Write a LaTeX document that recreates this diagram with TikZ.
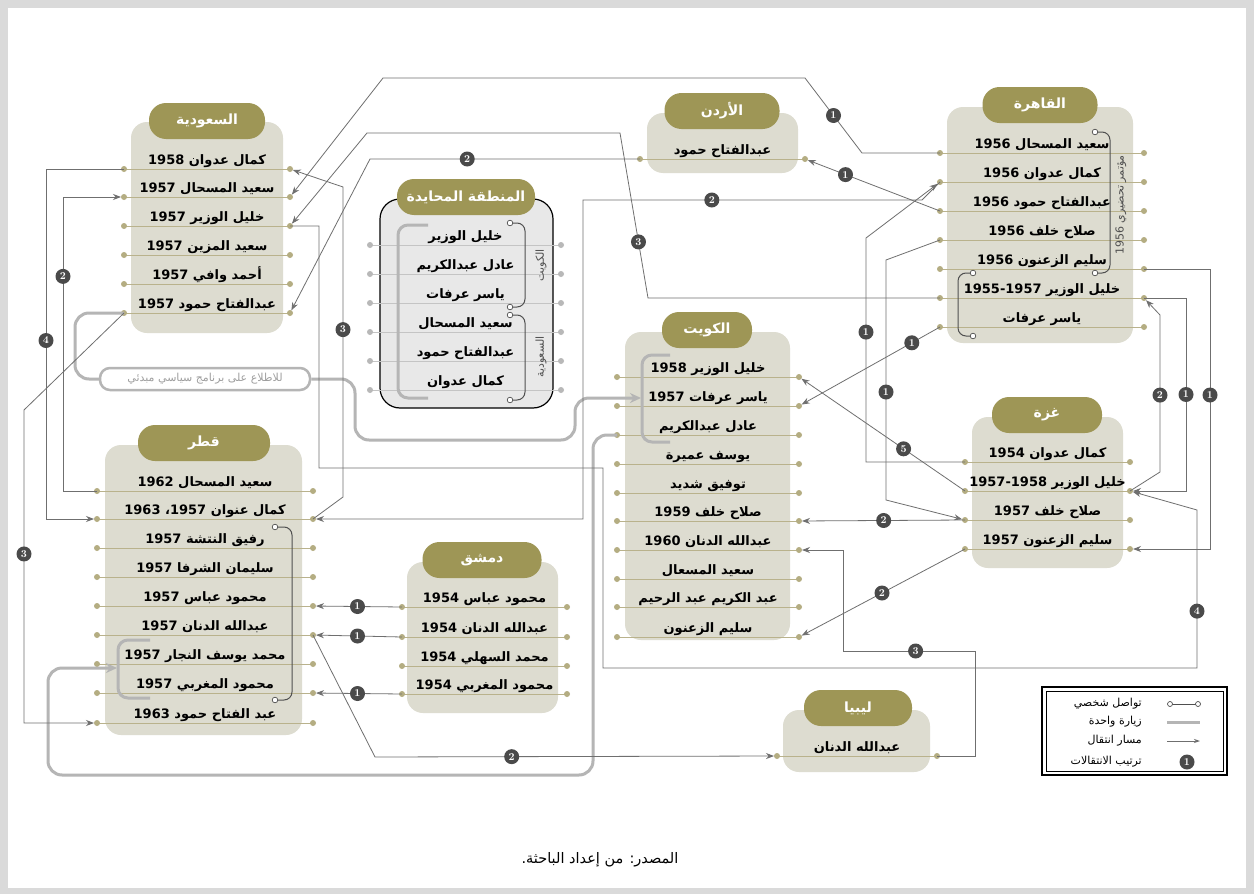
\documentclass[tikz,border=0pt]{standalone}
\usepackage{fontspec}
\usetikzlibrary{arrows.meta}
\TeXXeTstate=1
\newfontfamily\arabicfont[Script=Arabic]{DejaVu Sans}
\newcommand\ar[1]{{\arabicfont #1}}
\definecolor{framecol}{HTML}{DADADA}
\definecolor{boxfill}{HTML}{DDDCD0}
\definecolor{pillcol}{HTML}{9E9656}
\definecolor{rowcol}{HTML}{B9B28C}
\definecolor{dotcol}{HTML}{B4AD82}
\definecolor{nzfill}{HTML}{E8E8E8}
\definecolor{nzline}{HTML}{C4C4C4}
\definecolor{nzdot}{HTML}{B8B8B8}
\definecolor{conncol}{HTML}{6F6F6F}
\definecolor{visitcol}{HTML}{B5B5B5}
\definecolor{brkcol}{HTML}{4F4F4F}
\definecolor{numcol}{HTML}{4A4A4A}
\tikzset{
 pill/.style={fill=pillcol, rounded corners=17pt, minimum height=36pt, text=white, font=\bfseries\fontsize{14}{14}\selectfont, inner sep=0pt},
 rowtxt/.style={anchor=base, font=\bfseries\fontsize{13}{13}\selectfont, inner sep=0pt},
 conn/.style={draw=conncol, line width=0.8pt},
 arr/.style={conn, -{Stealth[length=8pt,width=6pt]}, shorten >=3pt},
 num/.style={circle, fill=numcol, text=white, inner sep=0pt, minimum size=15pt, font=\bfseries\fontsize{10.5}{10.5}\selectfont},
 visit/.style={draw=visitcol, line width=3pt, rounded corners=14pt},
 visitarr/.style={visit, -{Stealth[length=11pt,width=10pt]}},
 brkline/.style={draw=brkcol, line width=1pt, rounded corners=8pt},
 boxbg/.style={fill=boxfill, rounded corners=16pt},
 vlab/.style={rotate=90, text=brkcol, font=\fontsize{11}{11}\selectfont, inner sep=0pt},
 lgtxt/.style={anchor=east, font=\fontsize{11}{11}\selectfont, inner sep=0pt},
}
\newcommand\gRow[7]{%
 \coordinate (#3L) at (#4,#6); \coordinate (#3R) at (#5,#6);
 \draw[#1, line width=0.9pt] (#3L) -- (#3R);
 \fill[#2] (#3L) circle (3pt); \fill[#2] (#3R) circle (3pt);
 \node[rowtxt] (#3) at ({(#4+#5)/2},{#6-5}) {\ar{#7}};
}
\newcommand\crow{\gRow{rowcol}{dotcol}}
\newcommand\nrow{\gRow{nzline}{nzdot}}
\newcommand\brk[4]{%
 \draw[brkline] (#1,#2) -- (#4,#2) -- (#4,#3) -- (#1,#3);
 \draw[brkcol, fill=white, line width=0.7pt] (#1,#2) circle (2.8pt) (#1,#3) circle (2.8pt);
}
\begin{document}
\begin{tikzpicture}[x=1pt,y=-1pt]
\useasboundingbox (0,0) rectangle (1254,894);
\fill[framecol] (0,0) rectangle (1254,894);
\fill[white] (8,8) rectangle (1246,888);

% ---------- boxes ----------
\fill[boxbg] (131,122) rectangle (283,333);
\node[pill, minimum width=116pt] (sa) at (207,121) {\ar{\beginR السعودية\endR}};
\draw[fill=nzfill, draw=black, line width=1.2pt, rounded corners=20pt] (380,199) rectangle (553,408);
\node[pill, minimum width=138pt] (nz) at (466,197) {\ar{\beginR المنطقة المحايدة\endR}};
\fill[boxbg] (947,107) rectangle (1133,343);
\node[pill, minimum width=115pt] (ca) at (1040,105) {\ar{\beginR القاهرة\endR}};
\fill[boxbg] (647,113) rectangle (798,173);
\node[pill, minimum width=115pt] (jo) at (722,111) {\ar{\beginR الأردن\endR}};
\fill[boxbg] (625,332) rectangle (790,640);
\node[pill, minimum width=90pt] (ku) at (707,330) {\ar{\beginR الكويت\endR}};
\fill[boxbg] (105,445) rectangle (302,735);
\node[pill, minimum width=132pt] (qa) at (204,443) {\ar{\beginR قطر\endR}};
\fill[boxbg] (407,562) rectangle (558,713);
\node[pill, minimum width=119pt] (da) at (482,560) {\ar{\beginR دمشق\endR}};
\fill[boxbg] (972,417) rectangle (1123,568);
\node[pill, minimum width=110pt] (ga) at (1047,415) {\ar{\beginR غزة\endR}};
\fill[boxbg] (783,710) rectangle (930,772);
\node[pill, minimum width=108pt] (li) at (858,708) {\ar{\beginR ليبيا\endR}};

% ---------- rows ----------
\crow{sa1}{124}{290}{169}{\beginR كمال عدوان 1958\endR}
\crow{sa2}{124}{290}{197}{\beginR سعيد المسحال 1957\endR}
\crow{sa3}{124}{290}{226}{\beginR خليل الوزير 1957\endR}
\crow{sa4}{124}{290}{255}{\beginR سعيد المزين 1957\endR}
\crow{sa5}{124}{290}{284}{\beginR أحمد وافي 1957\endR}
\crow{sa6}{124}{290}{313}{\beginR عبدالفتاح حمود 1957\endR}

\nrow{nz1}{370}{561}{245}{\beginR خليل الوزير\endR}
\nrow{nz2}{370}{561}{274}{\beginR عادل عبدالكريم\endR}
\nrow{nz3}{370}{561}{303}{\beginR ياسر عرفات\endR}
\nrow{nz4}{370}{561}{332}{\beginR سعيد المسحال\endR}
\nrow{nz5}{370}{561}{361}{\beginR عبدالفتاح حمود\endR}
\nrow{nz6}{370}{561}{390}{\beginR كمال عدوان\endR}

\crow{ca1}{940}{1144}{153}{\beginR سعيد المسحال 1956\endR}
\crow{ca2}{940}{1144}{182}{\beginR كمال عدوان 1956\endR}
\crow{ca3}{940}{1144}{211}{\beginR عبدالفتاح حمود 1956\endR}
\crow{ca4}{940}{1144}{240}{\beginR صلاح خلف 1956\endR}
\crow{ca5}{940}{1144}{269}{\beginR سليم الزعنون 1956\endR}
\crow{ca6}{940}{1144}{298}{\beginR خليل الوزير 1955-1957\endR}
\crow{ca7}{940}{1144}{327}{\beginR ياسر عرفات\endR}

\crow{jo1}{640}{805}{159}{\beginR عبدالفتاح حمود\endR}

\crow{ku1}{617}{799}{377}{\beginR خليل الوزير 1958\endR}
\crow{ku2}{617}{799}{406}{\beginR ياسر عرفات 1957\endR}
\crow{ku3}{617}{799}{435}{\beginR عادل عبدالكريم\endR}
\crow{ku4}{617}{799}{464}{\beginR يوسف عميرة\endR}
\crow{ku5}{617}{799}{493}{\beginR توفيق شديد\endR}
\crow{ku6}{617}{799}{521}{\beginR صلاح خلف 1959\endR}
\crow{ku7}{617}{799}{550}{\beginR عبدالله الدنان 1960\endR}
\crow{ku8}{617}{799}{579}{\beginR سعيد المسعال\endR}
\crow{ku9}{617}{799}{607}{\beginR عبد الكريم عبد الرحيم\endR}
\crow{ku10}{617}{799}{637}{\beginR سليم الزعنون\endR}

\crow{qa1}{97}{313}{491}{\beginR سعيد المسحال 1962\endR}
\crow{qa2}{97}{313}{519}{\beginR كمال عنوان 1957، 1963\endR}
\crow{qa3}{97}{313}{548}{\beginR رفيق النتشة 1957\endR}
\crow{qa4}{97}{313}{577}{\beginR سليمان الشرفا 1957\endR}
\crow{qa5}{97}{313}{606}{\beginR محمود عباس 1957\endR}
\crow{qa6}{97}{313}{635}{\beginR عبدالله الدنان 1957\endR}
\crow{qa7}{97}{313}{664}{\beginR محمد يوسف النجار 1957\endR}
\crow{qa8}{97}{313}{693}{\beginR محمود المغربي 1957\endR}
\crow{qa9}{97}{313}{723}{\beginR عبد الفتاح حمود 1963\endR}

\crow{da1}{402}{567}{607}{\beginR محمود عباس 1954\endR}
\crow{da2}{402}{567}{637}{\beginR عبدالله الدنان 1954\endR}
\crow{da3}{402}{567}{666}{\beginR محمد السهلي 1954\endR}
\crow{da4}{402}{567}{694}{\beginR محمود المغربي 1954\endR}

\crow{ga1}{965}{1130}{462}{\beginR كمال عدوان 1954\endR}
\crow{ga2}{965}{1130}{491}{\beginR خليل الوزير 1957-1958\endR}
\crow{ga3}{965}{1130}{520}{\beginR صلاح خلف 1957\endR}
\crow{ga4}{965}{1130}{549}{\beginR سليم الزعنون 1957\endR}

\crow{li1}{777}{937}{756}{\beginR عبدالله الدنان\endR}

% ---------- personal contact brackets ----------
\brk{1095}{132}{273}{1110}
\brk{973}{273}{336}{958}
\brk{510}{223}{307}{525}
\brk{510}{315}{400}{525}
\brk{275}{527}{700}{292}
\node[vlab] (vca) at (1121,205) {\ar{\beginR مؤتمر تحضيري 1956\endR}};
\node[vlab] (vku) at (541,265) {\ar{\beginR الكويت\endR}};
\node[vlab] (vsa) at (541,357) {\ar{\beginR السعودية\endR}};

% ---------- one-visit paths ----------
\draw[visit, rounded corners=10pt] (428,225) -- (398,225) -- (398,398) -- (428,398);
\draw[visit, rounded corners=10pt] (670,355) -- (642,355) -- (642,442) -- (670,442);
\draw[visit, rounded corners=10pt] (150,640) -- (118,640) -- (118,698) -- (150,698);
\node[draw=visitcol, line width=2.5pt, fill=white, rounded corners=10pt, minimum width=210pt, minimum height=22pt, inner sep=0pt, text=gray!75, font=\fontsize{11}{11}\selectfont] (lab) at (205,379) {\ar{\beginR للاطلاع على برنامج سياسي مبدئي\endR}};
\draw[visit] (sa6L) -- (75,313) -- (75,379) -- (lab.west);
\draw[visitarr] (lab.east) -- (355,379) -- (355,440) -- (575,440) -- (575,398) -- (641,398);
\draw[visitarr] (ku3L) -- (593,435) -- (593,775) -- (48,775) -- (48,668) -- (117,668);

% ---------- moves ----------
\draw[arr] (ca1L) -- (862,153) -- node[num]{1} (805,78) -- (383,78) -- (sa2R);
\draw[arr] (jo1L) -- node[num,pos=.64]{2} (370,159) -- (sa6R);
\draw[arr] (ca3L) -- node[num,pos=.7]{1} (jo1R);
\draw[arr] (ca2L) -- (922,200) -- node[num,pos=.62]{2} (583,200) -- (583,519) -- (qa2R);
\draw[arr] (ca6L) -- (648,298) -- node[num,pos=.34]{3} (620,133) -- (367,133) -- (sa3R);
\draw[arr] (qa1L) -- (63,491) -- node[num,pos=.73]{2} (63,197) -- (sa2L);
\draw[arr] (sa1L) -- (46,169) -- node[num,pos=.49]{4} (46,519) -- (qa2L);
\draw[arr] (qa2R) -- (343,497) -- node[num,pos=.54]{3} (343,187) -- (sa1R);
\draw[arr] (sa6L) -- (24,410) -- node[num,pos=.46]{3} (24,723) -- (qa9L);
\draw[arr] (da1L) -- node[num]{1} (qa5R);
\draw[arr] (da2L) -- node[num]{1} (qa6R);
\draw[arr] (da4L) -- node[num]{1} (qa8R);
\draw[arr] (qa6R) -- (375,757) -- node[num,pos=.34]{2} (li1L);
\draw[arr] (li1R) -- (975,756) -- (975,651) -- node[num,pos=.45]{3} (843,651) -- (843,550) -- (ku7R);
\draw[arr] (ca7L) -- node[num,pos=.2]{1} (ku2R);
\draw[arr] (ga1L) -- (866,462) -- node[num,pos=.58]{1} (866,238) -- (ca2L);
\draw[arr] (ca4L) -- (886,260) -- node[num,pos=.55]{1} (886,500) -- (ga3L);
\draw[arr] (ga3L) -- node[num,pos=.49]{2} (ku6R);
\draw[arr] (ga4L) -- node[num]{2} (ku10R);
\draw[arr] (ga2L) -- node[num,pos=.37]{5} (ku1R);
\draw[arr] (ca6R) -- (1186,298) -- node[num]{1} (1186,491) -- (ga2R);
\draw[arr] (ga2R) -- (1160,472) -- node[num,pos=.49]{2} (1160,315) -- (ca6R);
\draw[arr] (ca5R) -- (1210,269) -- node[num,pos=.45]{1} (1210,549) -- (ga4R);
\draw[arr] (sa3R) -- (319,226) -- (319,468) -- (603,468) -- (603,668) -- (1197,668) -- node[num,pos=.36]{4} (1197,510) -- (ga2R);

% ---------- legend ----------
\draw[black, line width=1.3pt] (1042,687) rectangle (1227,775);
\draw[black, line width=0.6pt] (1046,691) rectangle (1223,771);
\node[lgtxt] (lg1) at (1142,704) {\ar{\beginR تواصل شخصي\endR}};
\node[lgtxt] (lg2) at (1142,722) {\ar{\beginR زيارة واحدة\endR}};
\node[lgtxt] (lg3) at (1142,741) {\ar{\beginR مسار انتقال\endR}};
\node[lgtxt] (lg4) at (1142,762) {\ar{\beginR ترتيب الانتقالات\endR}};
\coordinate (lgA1) at (1170,704); \coordinate (lgA2) at (1198,704);
\draw[brkcol, line width=0.7pt] (lgA1) -- (lgA2);
\draw[brkcol, fill=white, line width=0.7pt] (lgA1) circle (2.5pt) (lgA2) circle (2.5pt);
\coordinate (lgB1) at (1167,722); \coordinate (lgB2) at (1200,722);
\draw[visitcol, line width=3pt] (lgB1) -- (lgB2);
\coordinate (lgC1) at (1167,741); \coordinate (lgC2) at (1200,741);
\draw[conn, -{Stealth[length=6pt,width=4pt]}] (lgC1) -- (lgC2);
\node[num] (lgD) at (1187,762) {1};

% ---------- caption ----------
\node[font=\fontsize{14.5}{14.5}\selectfont] (cap) at (600,860) {\ar{\beginR المصدر: من إعداد الباحثة.\endR}};
\end{tikzpicture}
\end{document}
